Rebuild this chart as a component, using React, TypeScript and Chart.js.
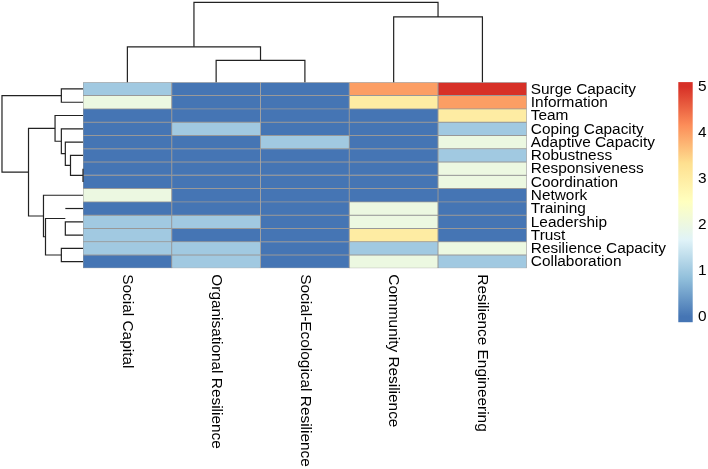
import { useEffect, useRef } from "react";
import { Chart, registerables } from "chart.js";

Chart.register(...registerables);

// ---------- data ----------
const rowLabels = [
  "Surge Capacity",
  "Information",
  "Team",
  "Coping Capacity",
  "Adaptive Capacity",
  "Robustness",
  "Responsiveness",
  "Coordination",
  "Network",
  "Training",
  "Leadership",
  "Trust",
  "Resilience Capacity",
  "Collaboration",
];

const columnLabels = [
  "Social Capital",
  "Organisational Resilience",
  "Social-Ecological Resilience",
  "Community Resilience",
  "Resilience Engineering",
];

const socialCapital = [1, 2, 0, 0, 0, 0, 0, 0, 2, 0, 1, 1, 1, 0];
const organisationalResilience = [0, 0, 0, 1, 0, 0, 0, 0, 0, 0, 1, 0, 1, 1];
const socialEcologicalResilience = [0, 0, 0, 0, 1, 0, 0, 0, 0, 0, 0, 0, 0, 0];
const communityResilience = [4, 3, 0, 0, 0, 0, 0, 0, 0, 2, 2, 3, 1, 2];
const resilienceEngineering = [5, 4, 3, 1, 2, 1, 2, 2, 0, 0, 0, 0, 2, 1];

const legendTicks = [0, 1, 2, 3, 4, 5];

// hierarchical clustering merges: [left, right, height]
// negative = leaf -(index+1), non-negative = earlier merge index
const rowMerges: number[][] = [
  [-7, -8, 0],
  [-6, 0, 1.0],
  [-11, -12, 1.414],
  [-10, 2, 1.414],
  [-5, 1, 1.414],
  [-1, -2, 1.732],
  [-4, 4, 1.732],
  [-13, -14, 1.732],
  [-3, 6, 2.236],
  [3, 7, 3.0],
  [-9, 9, 3.162],
  [8, 10, 4.359],
  [5, 11, 6.481],
];

const columnMerges: number[][] = [
  [-2, -3, 2.236],
  [-1, 0, 3.606],
  [-4, -5, 6.633],
  [1, 2, 8.124],
];

// ---------- styling / layout ----------
const palette = ["#4575B4", "#91BFDB", "#E0F3F8", "#FFFFBF", "#FEE090", "#FC8D59", "#D73027"];
const VMIN = 0;
const VMAX = 5;
const W = 708;
const H = 469;
const GRID_LEFT = 83;
const GRID_RIGHT = 526.8;
const GRID_TOP = 82.3;
const GRID_BOTTOM = 268.3;
const ROW_TREE_PX = 12.5; // px per distance unit (left tree)
const COL_TREE_PX = 9.85; // px per distance unit (top tree)
const LEGEND_PX = 46; // px per legend unit
const LEGEND_ZERO_Y = 316.7;
const FONT = '15.4px "Liberation Sans", Arial, sans-serif';

function hexToRgb(h: string) {
  const n = parseInt(h.slice(1), 16);
  return [(n >> 16) & 255, (n >> 8) & 255, n & 255];
}

function colorFor(v: number) {
  const t = Math.max(0, Math.min(1, (v - VMIN) / (VMAX - VMIN))) * (palette.length - 1);
  const i = Math.min(palette.length - 2, Math.floor(t));
  const f = t - i;
  const a = hexToRgb(palette[i]);
  const b = hexToRgb(palette[i + 1]);
  const c = a.map((x, k) => Math.round(x + (b[k] - x) * f));
  return `rgb(${c[0]},${c[1]},${c[2]})`;
}

function treeSegments(merges: number[][]) {
  const pos: number[] = [];
  const hts: number[] = [];
  const info = (ref: number) =>
    ref < 0 ? { p: -ref - 1 + 0.5, h: 0 } : { p: pos[ref], h: hts[ref] };
  return merges.map(([a, b, h], k) => {
    const A = info(a);
    const B = info(b);
    pos[k] = (A.p + B.p) / 2;
    hts[k] = h;
    return [
      { p: A.p, h: A.h },
      { p: A.p, h },
      { p: B.p, h },
      { p: B.p, h: B.h },
    ];
  });
}

const decorPlugin = {
  id: "decor",
  afterDraw(chart: any) {
    const { ctx, chartArea, scales } = chart;
    const y = scales.y;
    const x = scales.x;
    const yc = scales.yc;
    ctx.save();
    ctx.fillStyle = "#000";
    ctx.font = FONT;
    ctx.textAlign = "left";
    ctx.textBaseline = "middle";
    rowLabels.forEach((l, i) => {
      ctx.fillText(l, chartArea.right + 4, y.getPixelForValue(i + 0.5) + 0.5);
    });
    columnLabels.forEach((l, j) => {
      const px = x.getPixelForValue(j);
      ctx.save();
      ctx.translate(px, chartArea.bottom + 6);
      ctx.rotate(Math.PI / 2);
      ctx.fillText(l, 0, 0);
      ctx.restore();
    });
    // colour legend
    const top = yc.getPixelForValue(VMAX + 0.1);
    const bot = yc.getPixelForValue(VMIN - 0.12);
    const g = ctx.createLinearGradient(0, yc.getPixelForValue(VMIN), 0, yc.getPixelForValue(VMAX));
    palette.forEach((c, k) => g.addColorStop(k / (palette.length - 1), c));
    ctx.fillStyle = g;
    ctx.fillRect(678.3, top, 14.4, bot - top);
    ctx.fillStyle = "#000";
    legendTicks.forEach((t) => {
      ctx.fillText(String(t), 698, yc.getPixelForValue(t));
    });
    ctx.restore();
  },
};

export default function App() {
  const ref = useRef<HTMLCanvasElement | null>(null);

  useEffect(() => {
    document.body.style.margin = "0";
    const columns = [
      socialCapital,
      organisationalResilience,
      socialEcologicalResilience,
      communityResilience,
      resilienceEngineering,
    ];

    const cellDatasets = rowLabels.map((label, i) => ({
      type: "bar" as const,
      label,
      xAxisID: "x",
      yAxisID: "y",
      data: columns.map(() => [i, i + 1]),
      backgroundColor: columns.map((col) => colorFor(col[i])),
      borderColor: "#999999",
      borderWidth: 0.8,
      borderSkipped: false,
      barPercentage: 1,
      categoryPercentage: 1,
      grouped: false,
    }));

    const lineStyle = {
      type: "line" as const,
      borderColor: "#222222",
      borderWidth: 1.2,
      pointRadius: 0,
      pointHoverRadius: 0,
      pointHitRadius: 0,
      fill: false,
      tension: 0,
      clip: false as const,
      order: -1,
    };

    const rowTree = treeSegments(rowMerges).map((seg, k) => ({
      ...lineStyle,
      label: `row-tree-${k}`,
      xAxisID: "xh",
      yAxisID: "y",
      data: seg.map((s) => ({ x: s.h, y: s.p })),
    }));

    const colTree = treeSegments(columnMerges).map((seg, k) => ({
      ...lineStyle,
      label: `col-tree-${k}`,
      xAxisID: "xl",
      yAxisID: "yh",
      data: seg.map((s) => ({ x: s.p, y: s.h })),
    }));

    const gridW = GRID_RIGHT - GRID_LEFT;
    const gridH = GRID_BOTTOM - GRID_TOP;
    const ycMax = VMAX + (LEGEND_ZERO_Y - LEGEND_PX * VMAX - GRID_TOP) / LEGEND_PX;
    const ycMin = (LEGEND_ZERO_Y - GRID_BOTTOM) / LEGEND_PX;

    const chart = new Chart(ref.current as HTMLCanvasElement, {
      type: "bar",
      data: {
        labels: columnLabels,
        datasets: [...cellDatasets, ...rowTree, ...colTree] as any,
      },
      options: {
        animation: false,
        responsive: false,
        maintainAspectRatio: false,
        events: [],
        layout: {
          padding: {
            left: GRID_LEFT,
            top: GRID_TOP,
            right: W - GRID_RIGHT,
            bottom: H - GRID_BOTTOM,
          },
        },
        plugins: {
          legend: { display: false },
          tooltip: { enabled: false },
        },
        scales: {
          x: { type: "category", display: false, offset: true },
          y: { type: "linear", display: false, min: 0, max: rowLabels.length, reverse: true, offset: false },
          xl: { type: "linear", display: false, min: 0, max: columnLabels.length, offset: false },
          yh: { type: "linear", display: false, min: -gridH / COL_TREE_PX, max: 0, offset: false },
          xh: { type: "linear", display: false, min: -gridW / ROW_TREE_PX, max: 0, reverse: true, offset: false },
          yc: { type: "linear", display: false, min: ycMin, max: ycMax, offset: false },
        },
      },
      plugins: [decorPlugin],
    });

    return () => chart.destroy();
  }, []);

  return (
    <div style={{ width: W, height: H }}>
      <canvas ref={ref} width={W} height={H} style={{ display: "block" }} />
    </div>
  );
}
